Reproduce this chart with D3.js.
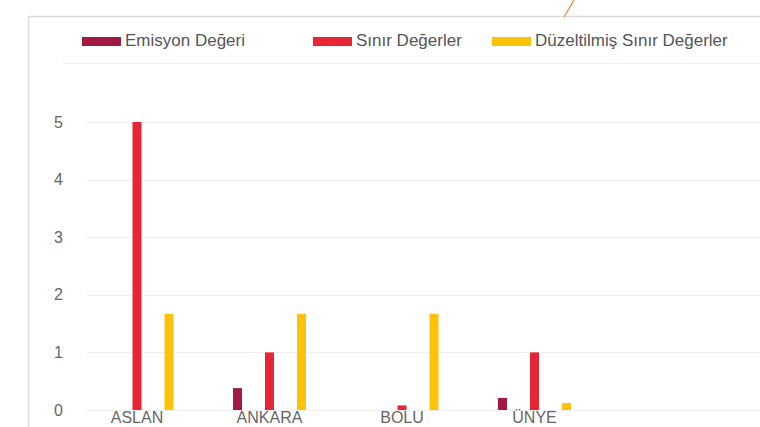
<!DOCTYPE html>
<html>
<head>
<meta charset="utf-8">
<script src="https://cdn.jsdelivr.net/npm/d3@7"></script>
<style>
  html, body { margin: 0; padding: 0; background: #fff; overflow: hidden; }
  svg { display: block; font-family: "Liberation Sans", Arial, sans-serif; }
</style>
</head>
<body>
<svg id="chart" width="760" height="427"></svg>
<script>
// Sites and the three measured series
const categories = ["ASLAN", "ANKARA", "BOLU", "ÜNYE"];
const seriesNames = ["Emisyon Değeri", "Sınır Değerler", "Düzeltilmiş Sınır Değerler"];
const emisyon = [0, 0.38, 0, 0.21];
const sinir = [5, 1, 0.08, 1];
const duzeltilmis = [1.67, 1.67, 1.67, 0.12];
const yTicks = [0, 1, 2, 3, 4, 5];
const colors = ["#a21a42", "#e62535", "#fdc20a"];

const seriesValues = [emisyon, sinir, duzeltilmis];

const svg = d3.select("#chart");
const W = 760, H = 427;

// Panel frame (top + left edge) and decorative connector line
svg.append("line").attr("x1", 28).attr("x2", W).attr("y1", 16.5).attr("y2", 16.5)
  .attr("stroke", "#dcdcdc").attr("stroke-width", 1.5);
svg.append("line").attr("x1", 28.5).attr("x2", 28.5).attr("y1", 16).attr("y2", H)
  .attr("stroke", "#dcdcdc").attr("stroke-width", 1.5);
svg.append("line").attr("x1", 574).attr("y1", 0).attr("x2", 564).attr("y2", 17)
  .attr("stroke", "#f07f3c").attr("stroke-width", 1.2);

// Separator under the legend
svg.append("line").attr("x1", 63).attr("x2", W).attr("y1", 63.5).attr("y2", 63.5)
  .attr("stroke", "#f0f0f0").attr("stroke-width", 1);

// Scales
const y = d3.scaleLinear().domain([0, 5]).range([410, 122]);
const x0 = d3.scaleBand().domain(categories).range([70.75, 600.75]).padding(0);
const x1 = d3.scalePoint().domain(seriesNames).range([-32, 32]);
const barW = 9;

// Grid lines
svg.append("g").selectAll("line").data(yTicks).join("line")
  .attr("x1", 87).attr("x2", W)
  .attr("y1", d => Math.round(y(d)) + 0.5).attr("y2", d => Math.round(y(d)) + 0.5)
  .attr("stroke", "#efefef").attr("stroke-width", 1);

// Y axis labels
const yAxis = d3.axisLeft(y).tickValues(yTicks).tickFormat(d3.format("d"))
  .tickSize(0).tickPadding(0);
const gy = svg.append("g").attr("transform", "translate(63,0)").call(yAxis);
gy.select(".domain").remove();
gy.selectAll("text").attr("fill", "#666").attr("font-size", 16)
  .attr("font-family", "Liberation Sans, Arial, sans-serif");

// X axis labels (sit under the middle bar of each group)
const xAxis = d3.axisBottom(x0).tickSize(0).tickPadding(0);
const gx = svg.append("g").attr("transform", "translate(0,423)").call(xAxis);
gx.select(".domain").remove();
gx.selectAll("text").attr("fill", "#666").attr("font-size", 16)
  .attr("dy", 0).attr("y", 0)
  .attr("font-family", "Liberation Sans, Arial, sans-serif");

// Bars
const groups = svg.append("g").selectAll("g").data(categories).join("g")
  .attr("transform", d => `translate(${x0(d) + x0.bandwidth() / 2},0)`);

groups.selectAll("rect")
  .data((c, i) => seriesNames.map((s, k) => ({ s, k, v: seriesValues[k][i] })))
  .join("rect")
  .attr("x", d => x1(d.s) - barW / 2)
  .attr("width", barW)
  .attr("y", d => y(d.v))
  .attr("height", d => y(0) - y(d.v))
  .attr("fill", d => colors[d.k]);

// Legend
const legendX = [82, 313, 492];
const legend = svg.append("g").selectAll("g").data(seriesNames).join("g")
  .attr("transform", (d, i) => `translate(${legendX[i]},0)`);
legend.append("rect").attr("x", 0).attr("y", 37).attr("width", 39).attr("height", 9)
  .attr("fill", (d, i) => colors[i]);
legend.append("text").attr("x", 43).attr("y", 46).text(d => d)
  .attr("fill", "#555").attr("font-size", 17);
</script>
</body>
</html>
